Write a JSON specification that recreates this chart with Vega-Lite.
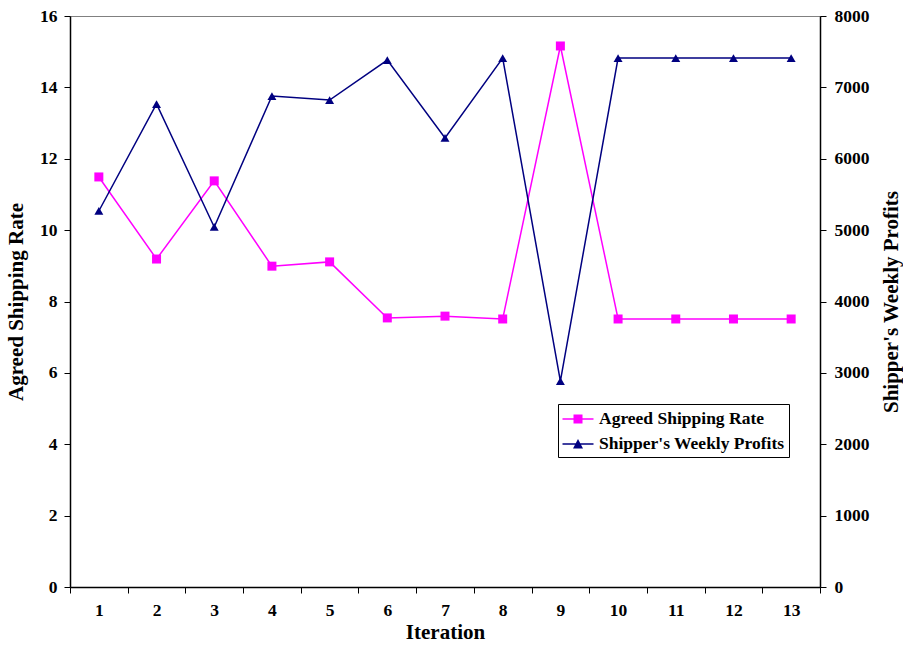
{
  "$schema": "https://vega.github.io/schema/vega-lite/v6.json",
  "width": 750,
  "height": 571,
  "autosize": {"type": "none"},
  "padding": {"left": 70, "top": 16, "right": 83, "bottom": 58},
  "background": "white",
  "config": {
    "view": {"stroke": "#808080"},
    "font": "Liberation Serif",
    "axis": {
      "labelFont": "Liberation Serif", "labelFontWeight": "bold", "labelFontSize": 17.5, "labelColor": "black",
      "titleFont": "Liberation Serif", "titleFontWeight": "bold", "titleFontSize": 21, "titleColor": "black",
      "domainColor": "black", "domainWidth": 1.5, "tickColor": "black", "tickWidth": 1, "tickSize": 6, "grid": false
    },
    "legend": {
      "labelFont": "Liberation Serif", "labelFontWeight": "bold", "labelFontSize": 17.5, "labelColor": "black", "labelLimit": 400
    }
  },
  "data": {"values": [
    {"iteration": 1, "series": "Agreed Shipping Rate", "value": 11.49},
    {"iteration": 2, "series": "Agreed Shipping Rate", "value": 9.19},
    {"iteration": 3, "series": "Agreed Shipping Rate", "value": 11.38},
    {"iteration": 4, "series": "Agreed Shipping Rate", "value": 8.99},
    {"iteration": 5, "series": "Agreed Shipping Rate", "value": 9.11},
    {"iteration": 6, "series": "Agreed Shipping Rate", "value": 7.54},
    {"iteration": 7, "series": "Agreed Shipping Rate", "value": 7.59},
    {"iteration": 8, "series": "Agreed Shipping Rate", "value": 7.51},
    {"iteration": 9, "series": "Agreed Shipping Rate", "value": 15.16},
    {"iteration": 10, "series": "Agreed Shipping Rate", "value": 7.51},
    {"iteration": 11, "series": "Agreed Shipping Rate", "value": 7.51},
    {"iteration": 12, "series": "Agreed Shipping Rate", "value": 7.51},
    {"iteration": 13, "series": "Agreed Shipping Rate", "value": 7.51},
    {"iteration": 1, "series": "Shipper's Weekly Profits", "value": 5268},
    {"iteration": 2, "series": "Shipper's Weekly Profits", "value": 6767},
    {"iteration": 3, "series": "Shipper's Weekly Profits", "value": 5044},
    {"iteration": 4, "series": "Shipper's Weekly Profits", "value": 6879},
    {"iteration": 5, "series": "Shipper's Weekly Profits", "value": 6823},
    {"iteration": 6, "series": "Shipper's Weekly Profits", "value": 7383},
    {"iteration": 7, "series": "Shipper's Weekly Profits", "value": 6291},
    {"iteration": 8, "series": "Shipper's Weekly Profits", "value": 7411},
    {"iteration": 9, "series": "Shipper's Weekly Profits", "value": 2886},
    {"iteration": 10, "series": "Shipper's Weekly Profits", "value": 7411},
    {"iteration": 11, "series": "Shipper's Weekly Profits", "value": 7411},
    {"iteration": 12, "series": "Shipper's Weekly Profits", "value": 7411},
    {"iteration": 13, "series": "Shipper's Weekly Profits", "value": 7411}
  ]},
  "encoding": {
    "x": {
      "field": "iteration", "type": "ordinal",
      "scale": {"type": "band", "paddingInner": 0, "paddingOuter": 0},
      "axis": {"title": "Iteration", "labelAngle": 0, "tickBand": "extent", "labelPadding": 8, "titlePadding": 3,
               "encode": {"ticks": {"y": {"value": -6}}}}
    }
  },
  "layer": [
    {
      "transform": [{"filter": "datum.series == 'Agreed Shipping Rate'"}],
      "encoding": {
        "y": {"field": "value", "type": "quantitative",
              "scale": {"domain": [0, 16], "nice": false, "zero": true},
              "axis": {"title": "Agreed Shipping Rate", "orient": "left", "values": [0, 2, 4, 6, 8, 10, 12, 14, 16],
                       "labelPadding": 7, "titlePadding": 13,
                       "encode": {"ticks": {"x": {"value": 6}}}}}
      },
      "layer": [
        {"mark": {"type": "line", "color": "#FF00FF", "strokeWidth": 1.5}},
        {"mark": {"type": "point", "filled": true, "opacity": 1, "size": 81, "shape": "square", "color": "#FF00FF"}}
      ]
    },
    {
      "transform": [{"filter": "datum.series == \"Shipper's Weekly Profits\""}],
      "encoding": {
        "y": {"field": "value", "type": "quantitative",
              "scale": {"domain": [0, 8000], "nice": false, "zero": true},
              "axis": {"title": "Shipper's Weekly Profits", "orient": "right", "values": [0, 1000, 2000, 3000, 4000, 5000, 6000, 7000, 8000],
                       "format": "d", "labelPadding": 8, "titlePadding": 32, "titleAngle": 270,
                       "encode": {"ticks": {"x": {"value": -6}}}}}
      },
      "layer": [
        {"mark": {"type": "line", "color": "#000080", "strokeWidth": 1.5}},
        {"mark": {"type": "point", "filled": true, "opacity": 1, "size": 80, "shape": "triangle-up", "color": "#000080"}}
      ]
    },
    {
      "transform": [{"filter": "false"}],
      "mark": {"type": "point", "filled": true, "opacity": 1},
      "encoding": {
        "color": {"field": "series", "type": "nominal",
                  "scale": {"domain": ["Agreed Shipping Rate", "Shipper's Weekly Profits"], "range": ["#FF00FF", "#000080"]},
                  "legend": {"title": null, "orient": "none", "legendX": 488, "legendY": 388,
                             "strokeColor": "black", "fillColor": "white", "padding": 4,
                             "symbolSize": 400, "symbolOffset": 5, "labelOffset": 10, "rowPadding": 5}},
        "shape": {"field": "series", "type": "nominal",
                  "scale": {"domain": ["Agreed Shipping Rate", "Shipper's Weekly Profits"],
                            "range": ["M-1.55,-0.075H1.55V0.075H-1.55Z M-0.45,-0.45H0.45V0.45H-0.45Z", "M-1.55,-0.075H1.55V0.075H-1.55Z M0,-0.5L0.5,0.45L-0.5,0.45Z"]}}
      }
    }
  ],
  "resolve": {"scale": {"y": "independent"}}
}
